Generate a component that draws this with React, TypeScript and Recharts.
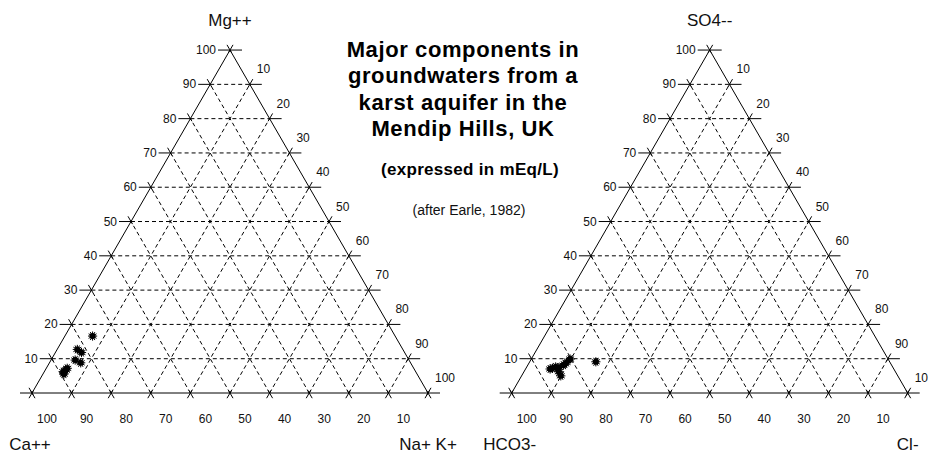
import { ReferenceDot, ReferenceLine, Scatter, ScatterChart, XAxis, YAxis } from "recharts";

// Cation shares (% of total meq/L); Ca++ is the remainder
const cationMg = [16.6, 12.7, 11.8, 9.6, 8.8, 6.7, 5.5, 7.2, 6.2];
const cationNaK = [7.0, 5.1, 6.6, 6.1, 7.9, 5.2, 5.3, 5.3, 4.8];

// Anion shares (% of total meq/L); HCO3- is the remainder
const anionSO4 = [9.1, 7.2, 7.6, 6.2, 5.0, 8.1, 8.9, 9.9, 7.0, 7.4];
const anionCl = [16.7, 6.7, 7.3, 8.8, 9.9, 9.0, 9.4, 9.8, 6.2, 8.2];

const gridSteps = [1, 2, 3, 4, 5, 6, 7, 8, 9];
const tickSteps = [0, 1, 2, 3, 4, 5, 6, 7, 8, 9, 10];
const tickLabels = ["10", "20", "30", "40", "50", "60", "70", "80", "90", "100"];

const cationNames = { top: "Mg++", left: "Ca++", right: "Na+ K+" };
const anionNames = { top: "SO4--", left: "HCO3-", right: "Cl-" };

const W = 928;
const H = 455;
const PX = 3.96; // pixels per percent
const BASE_Y = 393;
const LEFT_X = 32;
const SIN60 = Math.sqrt(3) / 2;
const FONT = "'Liberation Sans', Arial, sans-serif";

const leftOrigin = 0;
const rightOrigin = (511.7 - LEFT_X) / PX;

type Pt = { x: number; y: number };

const toXY = (ox: number, top: number, right: number): Pt => ({
  x: ox + right + top / 2,
  y: top * SIN60,
});

// shift a point by screen pixels (dy positive = up)
const off = (p: Pt, dx: number, dy: number): Pt => ({ x: p.x + dx / PX, y: p.y + dy / PX });

const Asterisk = (props: any) => {
  const { cx, cy } = props;
  const spikes = Array.from({ length: 12 }, (_, i) => (i * Math.PI) / 6);
  return (
    <g>
      <circle cx={cx} cy={cy} r={3} fill="#000" />
      {spikes.map((a, i) => (
        <line
          key={i}
          x1={cx}
          y1={cy}
          x2={cx + 4.6 * Math.cos(a)}
          y2={cy + 4.6 * Math.sin(a)}
          stroke="#000"
          strokeWidth={1}
        />
      ))}
    </g>
  );
};

const textShape =
  (value: string, dx: number, dy: number, anchor: string, size: number) => (props: any) =>
    (
      <text
        x={props.cx + dx}
        y={props.cy + dy}
        textAnchor={anchor as any}
        fontSize={size}
        fontFamily={FONT}
        fill="#111"
      >
        {value}
      </text>
    );

function triangleParts(ox: number, names: { top: string; left: string; right: string }, key: string) {
  const out: any[] = [];
  const seg = (a: Pt, b: Pt, k: string, dashed: boolean) =>
    out.push(
      <ReferenceLine
        key={`${key}-${k}`}
        segment={[a, b]}
        stroke="#000"
        strokeWidth={1}
        strokeDasharray={dashed ? "4 3" : undefined}
        ifOverflow="visible"
      />
    );
  const label = (p: Pt, text: string, dx: number, dy: number, anchor: string, size: number, k: string) =>
    out.push(
      <ReferenceDot
        key={`${key}-${k}`}
        x={p.x}
        y={p.y}
        r={1}
        ifOverflow="visible"
        shape={textShape(text, dx, dy, anchor, size)}
      />
    );

  // dashed grid
  gridSteps.forEach((s) => {
    const v = s * 10;
    seg(toXY(ox, v, 0), toXY(ox, v, 100 - v), `h${s}`, true);
    seg(toXY(ox, 0, v), toXY(ox, 100 - v, v), `r${s}`, true);
    seg(toXY(ox, 0, 100 - v), toXY(ox, 100 - v, 0), `l${s}`, true);
  });

  // outline
  const apex = toXY(ox, 100, 0);
  const cl = toXY(ox, 0, 0);
  const cr = toXY(ox, 0, 100);
  seg(cl, cr, "e1", false);
  seg(cl, apex, "e2", false);
  seg(cr, apex, "e3", false);

  // tick marks
  tickSteps.forEach((s) => {
    const v = s * 10;
    const L = toXY(ox, v, 0);
    seg(L, off(L, -12, 0), `tlh${s}`, false);
    seg(off(L, 1.5, -2.6), off(L, -3, 5.2), `tld${s}`, false);
    const R = toXY(ox, v, 100 - v);
    seg(R, off(R, 12, 0), `trh${s}`, false);
    seg(off(R, -1.5, -2.6), off(R, 3, 5.2), `trd${s}`, false);
    const B = toXY(ox, 0, v);
    seg(off(B, 1.5, 2.6), off(B, -3, -5.2), `tba${s}`, false);
    seg(off(B, -1.5, 2.6), off(B, 3, -5.2), `tbb${s}`, false);
  });

  // scale labels
  tickLabels.forEach((t, i) => {
    const s = i + 1;
    label(toXY(ox, s * 10, 0), t, -14, 4, "end", 12, `ll${s}`);
    label(toXY(ox, (10 - s) * 10, s * 10), t, 7, -11, "start", 12, `lr${s}`);
    label(toXY(ox, 0, (10 - s) * 10), t, 15, 30, "middle", 12, `lb${s}`);
  });

  // corner names
  label(apex, names.top, 0, -24, "middle", 17, "nt");
  label(cl, names.left, -2, 57, "middle", 17, "nl");
  label(cr, names.right, 0, 57, "middle", 17, "nr");
  return out;
}

const cationPoints = cationMg.map((mg, i) => toXY(leftOrigin, mg, cationNaK[i]));
const anionPoints = anionSO4.map((so4, i) => toXY(rightOrigin, so4, anionCl[i]));

const titleLines = [
  "Major components in",
  "groundwaters from a",
  "karst aquifer in the",
  "Mendip Hills, UK",
];

export default function App() {
  return (
    <div style={{ position: "absolute", left: 0, top: 0, width: W, height: H, background: "#fff" }}>
      <ScatterChart width={W} height={H} margin={{ top: 0, right: 0, bottom: 0, left: 0 }}>
        <XAxis
          type="number"
          dataKey="x"
          hide
          domain={[-LEFT_X / PX, (W - LEFT_X) / PX]}
          allowDataOverflow
        />
        <YAxis
          type="number"
          dataKey="y"
          hide
          domain={[-(H - BASE_Y) / PX, BASE_Y / PX]}
          allowDataOverflow
        />
        {triangleParts(leftOrigin, cationNames, "cat")}
        {triangleParts(rightOrigin, anionNames, "an")}
        <Scatter data={cationPoints} shape={Asterisk} isAnimationActive={false} />
        <Scatter data={anionPoints} shape={Asterisk} isAnimationActive={false} />
      </ScatterChart>
      <svg
        width={W}
        height={H}
        style={{ position: "absolute", left: 0, top: 0, pointerEvents: "none" }}
      >
        {titleLines.map((t, i) => (
          <text
            key={t}
            x={463}
            y={56.5 + i * 26.5}
            textAnchor="middle"
            fontFamily={FONT}
            fontWeight="bold"
            fontSize={22}
            letterSpacing={0.6}
            fill="#000"
          >
            {t}
          </text>
        ))}
        <text
          x={470}
          y={175}
          textAnchor="middle"
          fontFamily={FONT}
          fontWeight="bold"
          fontSize={17}
          letterSpacing={0.3}
          fill="#000"
        >
          (expressed in mEq/L)
        </text>
        <text x={469} y={215} textAnchor="middle" fontFamily={FONT} fontSize={14} fill="#111">
          (after Earle, 1982)
        </text>
      </svg>
    </div>
  );
}
